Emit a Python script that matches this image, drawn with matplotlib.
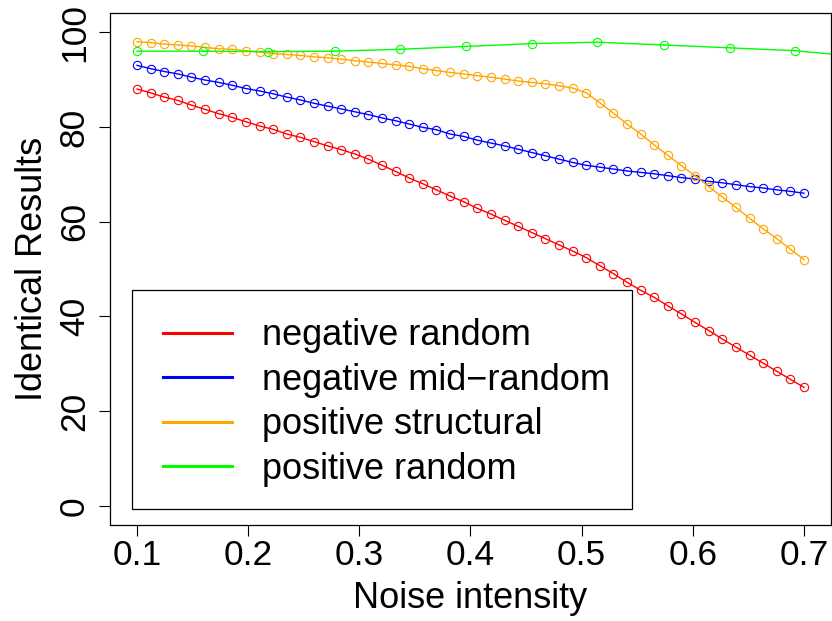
import numpy as np
import matplotlib
matplotlib.use("Agg")
import matplotlib.pyplot as plt
from matplotlib.patches import Rectangle

plt.rcParams['font.family'] = ['Liberation Sans', 'DejaVu Sans']

# noise levels for the three dense series
noise = np.linspace(0.1, 0.7, 50)

neg_random = [88.0, 87.2, 86.3, 85.6, 84.6, 83.7, 82.8, 82.0, 81.1, 80.2,
              79.5, 78.5, 77.8, 76.9, 76.0, 75.2, 74.3, 73.2, 71.9, 70.6,
              69.2, 68.0, 66.7, 65.4, 64.2, 62.8, 61.6, 60.3, 59.0, 57.7,
              56.4, 55.1, 53.8, 52.4, 50.7, 49.0, 47.2, 45.5, 44.0, 42.2,
              40.5, 38.7, 37.0, 35.2, 33.5, 31.8, 30.1, 28.4, 26.7, 25.0]

neg_mid_random = [93.0, 92.3, 91.7, 91.2, 90.5, 89.9, 89.4, 88.8, 88.1, 87.6,
                  87.0, 86.3, 85.7, 85.0, 84.4, 83.8, 83.2, 82.6, 81.9, 81.3,
                  80.6, 79.9, 79.4, 78.5, 78.0, 77.2, 76.6, 76.0, 75.3, 74.6,
                  73.9, 73.2, 72.5, 71.9, 71.5, 71.1, 70.7, 70.4, 70.1, 69.7,
                  69.3, 69.0, 68.5, 68.2, 67.8, 67.4, 67.1, 66.7, 66.4, 66.0]

pos_structural = [98.0, 97.8, 97.5, 97.3, 97.1, 96.8, 96.5, 96.4, 96.1, 95.8,
                  95.5, 95.3, 95.1, 94.8, 94.6, 94.3, 94.0, 93.7, 93.4, 93.1,
                  92.8, 92.3, 91.9, 91.5, 91.2, 90.8, 90.5, 90.1, 89.7, 89.4,
                  89.1, 88.7, 88.2, 87.2, 85.1, 82.9, 80.6, 78.5, 76.2, 74.0,
                  71.8, 69.7, 67.4, 65.2, 63.0, 60.7, 58.5, 56.4, 54.2, 52.0]

# positive random was sampled on a coarser grid
green_x = [0.100, 0.159, 0.218, 0.278, 0.337, 0.396, 0.455, 0.514, 0.574, 0.633, 0.692, 0.751]
pos_random = [96.0, 96.0, 95.9, 96.0, 96.4, 97.0, 97.6, 97.9, 97.3, 96.7, 96.1, 94.8]

labels = ['negative random', 'negative mid\u2212random', 'positive structural', 'positive random']
colors = ['#FF0000', '#0000FF', '#FFA500', '#00FF00']

fig = plt.figure(figsize=(8.32, 6.21), dpi=100)
ax = fig.add_axes([0.1326, 0.1551, 0.9984 - 0.1326, 0.9786 - 0.1551])

series = [(noise, neg_random), (noise, neg_mid_random), (noise, pos_structural), (green_x, pos_random)]
for (x, y), c in zip(series, colors):
    ax.plot(x, y, color=c, lw=1.0, marker='o', ms=6, mfc='none', mec=c, mew=0.8)

ax.set_xlim(0.076, 0.724)
ax.set_ylim(-4, 104)
ax.set_xticks([0.1, 0.2, 0.3, 0.4, 0.5, 0.6, 0.7])
ax.set_xticklabels(['0.1', '0.2', '0.3', '0.4', '0.5', '0.6', '0.7'])
ax.set_yticks([0, 20, 40, 60, 80, 100])
ax.tick_params(length=8, width=0.8, labelsize=25.5, direction='out')
ax.tick_params(axis='x', pad=2.5)
ax.tick_params(axis='y', pad=6)
for lab in ax.get_yticklabels():
    lab.set_rotation(90)
    lab.set_va('center')
for s in ax.spines.values():
    s.set_linewidth(0.9)

ax.set_xlabel('Noise intensity', fontsize=26, labelpad=6)
ax.set_ylabel('Identical Results', fontsize=26, labelpad=6)

# legend box drawn like R's legend()
ax.add_patch(Rectangle((0.0297, 0.0301), 0.6949, 0.4289, transform=ax.transAxes,
                       facecolor='white', edgecolor='black', lw=0.9, zorder=3))
handles = [plt.Line2D([], [], color=c, lw=2.2) for c in colors]
leg = ax.legend(handles, labels, loc='center left', bbox_to_anchor=(0.0736, 0.2390),
                frameon=False, borderpad=0, borderaxespad=0, fontsize=26,
                handlelength=1.89, handletextpad=0.85, labelspacing=0.26)
leg.set_zorder(4)

fig.savefig('out.png', dpi=100)
